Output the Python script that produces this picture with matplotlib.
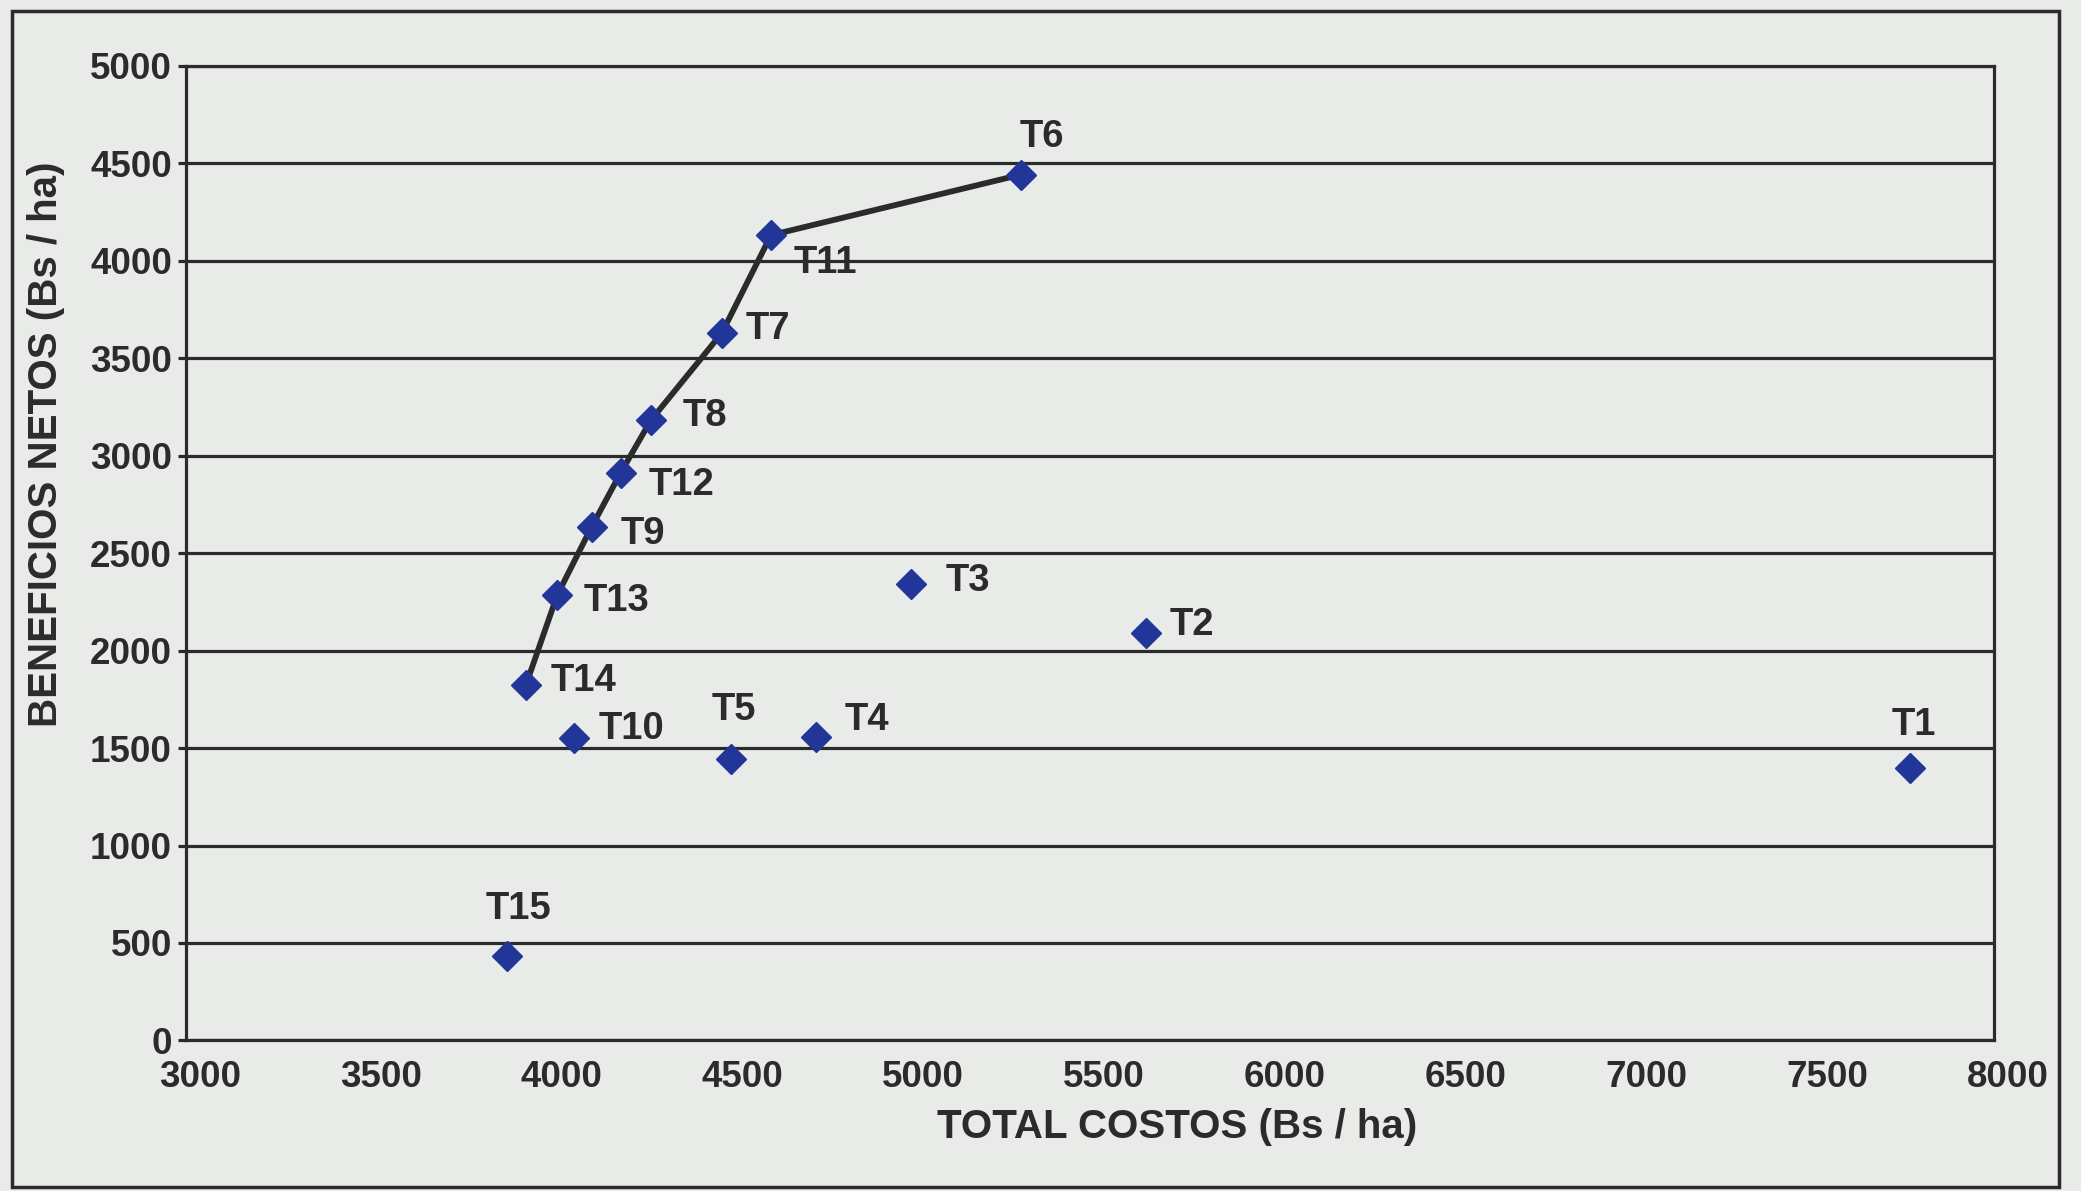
import matplotlib
matplotlib.use("Agg")
import matplotlib.pyplot as plt
from matplotlib.patches import Rectangle
from matplotlib.transforms import ScaledTranslation

plt.rcParams['font.family'] = ['Liberation Sans', 'DejaVu Sans']
plt.rcParams['font.weight'] = 'bold'

# tratamientos T1..T15
labels = ['T1', 'T2', 'T3', 'T4', 'T5', 'T6', 'T7', 'T8', 'T9', 'T10',
          'T11', 'T12', 'T13', 'T14', 'T15']
total_costos = [7766, 5656, 5005, 4741, 4507, 5308, 4482, 4286, 4122, 4073,
                4618, 4202, 4027, 3940, 3888]
beneficios = [1397, 2089, 2342, 1557, 1445, 4441, 3629, 3182, 2635, 1550,
              4131, 2911, 2285, 1822, 433]

# curva de beneficios netos (tratamientos no dominados)
curva = ['T14', 'T13', 'T9', 'T12', 'T8', 'T7', 'T11', 'T6']

x_ticks = [3000, 3500, 4000, 4500, 5000, 5500, 6000, 6500, 7000, 7500, 8000]
y_ticks = [0, 500, 1000, 1500, 2000, 2500, 3000, 3500, 4000, 4500, 5000]

# posicion de cada etiqueta: (dx, dy) en puntos, alineacion horizontal
label_pos = {
    'T1': (3, 31, 'center'), 'T2': (17, 6, 'left'), 'T3': (25, 2, 'left'),
    'T4': (21, 12, 'left'), 'T5': (2, 35, 'center'), 'T6': (15, 27, 'center'),
    'T7': (17, 3, 'left'), 'T8': (23, 3, 'left'), 'T9': (21, -5, 'left'),
    'T10': (18, 7, 'left'), 'T11': (16, -20, 'left'), 'T12': (20, -9, 'left'),
    'T13': (19, -4, 'left'), 'T14': (18, 3, 'left'), 'T15': (8, 34, 'center'),
}

bg = '#e9ebe8'
ink = '#2b2b2b'
navy = '#22369a'

fig = plt.figure(figsize=(20.81, 11.91), dpi=100, facecolor=bg)
ax = fig.add_axes([0.0893, 0.1264, 0.869, 0.8184])
ax.set_facecolor(bg)

ax.set_xlim(3000, 8000)
ax.set_ylim(0, 5000)
ax.set_xticks(x_ticks)
ax.set_yticks(y_ticks)
ax.yaxis.grid(True, color=ink, linewidth=2.3)
ax.set_axisbelow(True)

for s in ax.spines.values():
    s.set_color(ink)
    s.set_linewidth(2.3)

ax.tick_params(axis='x', length=0, pad=14, labelsize=26.5, labelcolor=ink)
ax.tick_params(axis='y', length=6, width=2.3, color=ink, pad=4,
               labelsize=26.5, labelcolor=ink)
for t in ax.get_xticklabels():
    t.set_transform(t.get_transform() + ScaledTranslation(0.14, 0, fig.dpi_scale_trans))

# linea de la curva
idx = [labels.index(n) for n in curva]
ax.plot([total_costos[i] for i in idx], [beneficios[i] for i in idx],
        color=ink, linewidth=4.2, zorder=3)

ax.plot(total_costos, beneficios, linestyle='none', marker='D', markersize=15.5,
        color=navy, markeredgecolor=navy, zorder=4, clip_on=False)

for name, xv, yv in zip(labels, total_costos, beneficios):
    dx, dy, ha = label_pos[name]
    ax.annotate(name, (xv, yv), xytext=(dx, dy), textcoords='offset points',
                ha=ha, va='center', fontsize=27.5, color=ink, zorder=5)

fig.text(0.5657, 0.0537, 'TOTAL COSTOS (Bs / ha)', ha='center', va='center',
         fontsize=29, color=ink)
fig.text(0.0223, 0.6272, 'BENEFICIOS NETOS (Bs / ha)', ha='center', va='center',
         rotation=90, fontsize=29, color=ink)

# marco exterior del grafico
fig.add_artist(Rectangle((12 / 2081, 1 - 1187 / 1191), 2047 / 2081, 1176 / 1191,
                         transform=fig.transFigure, fill=False,
                         edgecolor=ink, linewidth=2.5))

fig.savefig('out.png', dpi=100, facecolor=bg)
